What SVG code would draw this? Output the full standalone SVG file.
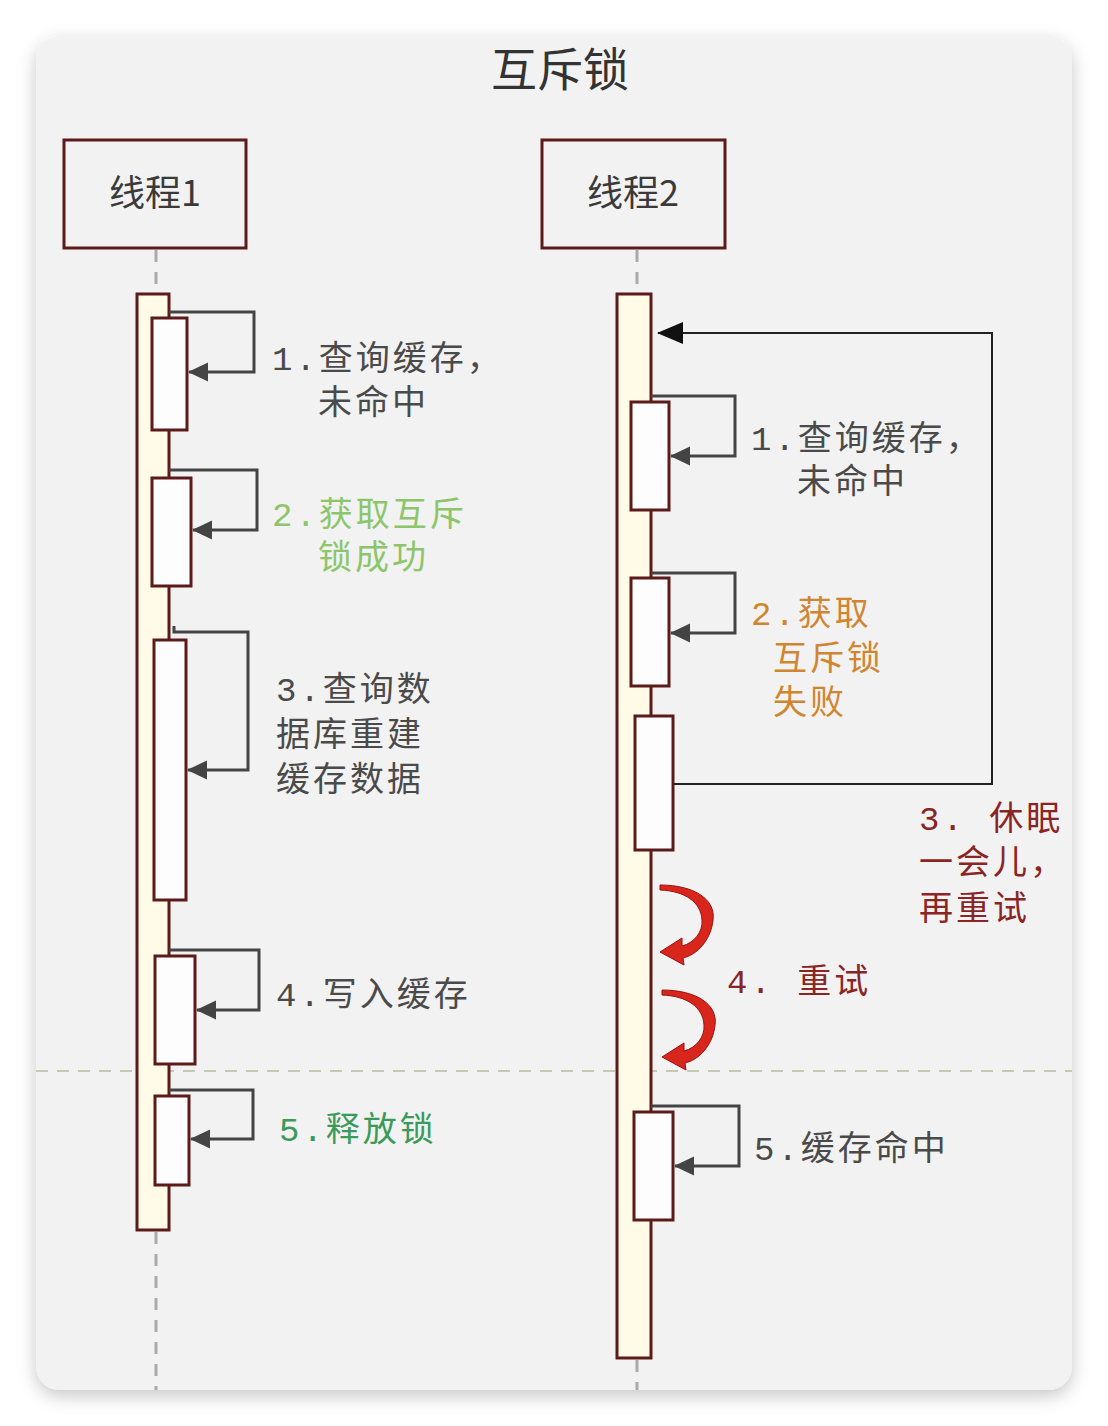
<svg xmlns="http://www.w3.org/2000/svg" width="1108" height="1426" viewBox="0 0 1108 1426">
<defs>
<filter id="sh" x="-10%" y="-10%" width="120%" height="120%">
<feDropShadow dx="0" dy="6" stdDeviation="9" flood-color="#000" flood-opacity="0.22"/>
</filter>
<marker id="ah" markerWidth="20" markerHeight="20" refX="19" refY="10" orient="auto" markerUnits="userSpaceOnUse">
<path d="M0,0.5 L20,10 L0,19.5 Z" fill="#444"/>
</marker>
<marker id="ahb" markerWidth="26" markerHeight="22" refX="25" refY="11" orient="auto" markerUnits="userSpaceOnUse">
<path d="M0,0 L26,11 L0,22 Z" fill="#111"/>
</marker>
<style>
.hdr{fill:none;stroke:#5c1a1a;stroke-width:3}
.bar{fill:#fffbe6;stroke:#5c1a1a;stroke-width:3}
.act{fill:#fdfdfd;stroke:#5c1a1a;stroke-width:3}
.life{stroke:#aaa;stroke-width:3;stroke-dasharray:12 10;fill:none}
.loop{fill:none;stroke:#444;stroke-width:3;marker-end:url(#ah)}
.big{fill:none;stroke:#222;stroke-width:2;marker-end:url(#ahb)}
.t{font-family:"Liberation Mono","Noto Sans CJK SC",monospace;font-size:34px;letter-spacing:3px}
.g{fill:#4a4a4a}
.lg{fill:#8cc56a}
.dg{fill:#3a9a5a}
.or{fill:#d08530}
.dr{fill:#8a2525}
.curl{fill:#d9261c;stroke:#9a1010;stroke-width:1}
</style>
</defs>
<rect x="0" y="0" width="1108" height="1426" fill="#ffffff"/>
<rect x="36" y="36" width="1036" height="1354" rx="24" fill="#f2f2f2" filter="url(#sh)"/>
<g id="title"><text x="560" y="86" text-anchor="middle" font-family="Noto Sans CJK SC, sans-serif" font-size="46" fill="#333">互斥锁</text></g>
<g id="separator"><line x1="36" y1="1071" x2="1072" y2="1071" stroke="#c5c9b0" stroke-width="2" stroke-dasharray="12 9"/></g>
<g id="thread1">
<rect class="hdr" x="64" y="140" width="182" height="108"/>
<text x="155" y="206" text-anchor="middle" font-family="Noto Sans CJK SC, sans-serif" font-size="36" fill="#3a3a3a">线程1</text>
<line class="life" x1="156" y1="250" x2="156" y2="294"/>
<line class="life" x1="156" y1="1232" x2="156" y2="1390"/>
<rect class="bar" x="137" y="294" width="32" height="936"/>
</g>
<g id="thread2">
<rect class="hdr" x="542" y="140" width="183" height="108"/>
<text x="633" y="206" text-anchor="middle" font-family="Noto Sans CJK SC, sans-serif" font-size="36" fill="#3a3a3a">线程2</text>
<line class="life" x1="637" y1="250" x2="637" y2="294"/>
<line class="life" x1="637" y1="1360" x2="637" y2="1390"/>
<rect class="bar" x="617" y="294" width="34" height="1064"/>
</g>
<g id="t1-step1"><rect class="act" x="152" y="318" width="35" height="112"/>
<text class="t g" x="272" y="370">1.查询缓存，</text><text class="t g" x="318" y="414">未命中</text></g>
<g id="t1-step2"><rect class="act" x="152" y="478" width="39" height="108"/>
<text class="t lg" x="272" y="526">2.获取互斥</text><text class="t lg" x="318" y="569">锁成功</text></g>
<g id="t1-step3"><rect class="act" x="154" y="640" width="32" height="260"/>
<text class="t g" x="276" y="701">3.查询数</text><text class="t g" x="276" y="746">据库重建</text><text class="t g" x="276" y="791">缓存数据</text></g>
<g id="t1-step4"><rect class="act" x="155" y="956" width="40" height="108"/>
<text class="t g" x="276" y="1006">4.写入缓存</text></g>
<g id="t1-step5"><rect class="act" x="155" y="1096" width="34" height="89"/>
<text class="t dg" x="279" y="1141">5.释放锁</text></g>
<g id="t2-step1"><rect class="act" x="631" y="402" width="38" height="108"/>
<text class="t g" x="751" y="450">1.查询缓存，</text><text class="t g" x="797" y="493">未命中</text></g>
<g id="t2-step2"><rect class="act" x="631" y="578" width="38" height="108"/>
<text class="t or" x="751" y="625">2.获取</text><text class="t or" x="773" y="670">互斥锁</text><text class="t or" x="773" y="714">失败</text></g>
<g id="t2-step3"><rect class="act" x="635" y="716" width="38" height="134"/>
<text class="t dr" x="919" y="830">3. 休眠</text><text class="t dr" x="919" y="874">一会儿，</text><text class="t dr" x="919" y="920">再重试</text></g>
<g id="t2-step4">
<path class="curl" d="M660,885 C695,885 716,900 713,920 C711,940 697,955 683,958 L684,965 L660,952 L682,938 L682,946 C694,943 703,932 702,920 C701,902 685,891 660,890 Z"/>
<path class="curl" transform="translate(2,105)" d="M660,885 C695,885 716,900 713,920 C711,940 697,955 683,958 L684,965 L660,952 L682,938 L682,946 C694,943 703,932 702,920 C701,902 685,891 660,890 Z"/>
<text class="t dr" x="727" y="993">4. 重试</text></g>
<g id="t2-step5"><rect class="act" x="634" y="1112" width="39" height="108"/>
<text class="t g" x="754" y="1160">5.缓存命中</text></g>
<g id="connectors">
<polyline class="loop" points="169,312 254,312 254,372 189,372"/>
<polyline class="loop" points="169,470 257,470 257,530 193,530"/>
<polyline class="loop" points="174,626 174,632 248,632 248,770 188,770"/>
<polyline class="loop" points="169,950 259,950 259,1010 197,1010"/>
<polyline class="loop" points="169,1090 253,1090 253,1139 191,1139"/>
<polyline class="loop" points="651,396 735,396 735,456 671,456"/>
<polyline class="loop" points="651,573 735,573 735,633 671,633"/>
<polyline class="loop" points="651,1106 739,1106 739,1166 675,1166"/>
<polyline class="big" points="673,784 992,784 992,333 658,333"/>
</g>
</svg>
